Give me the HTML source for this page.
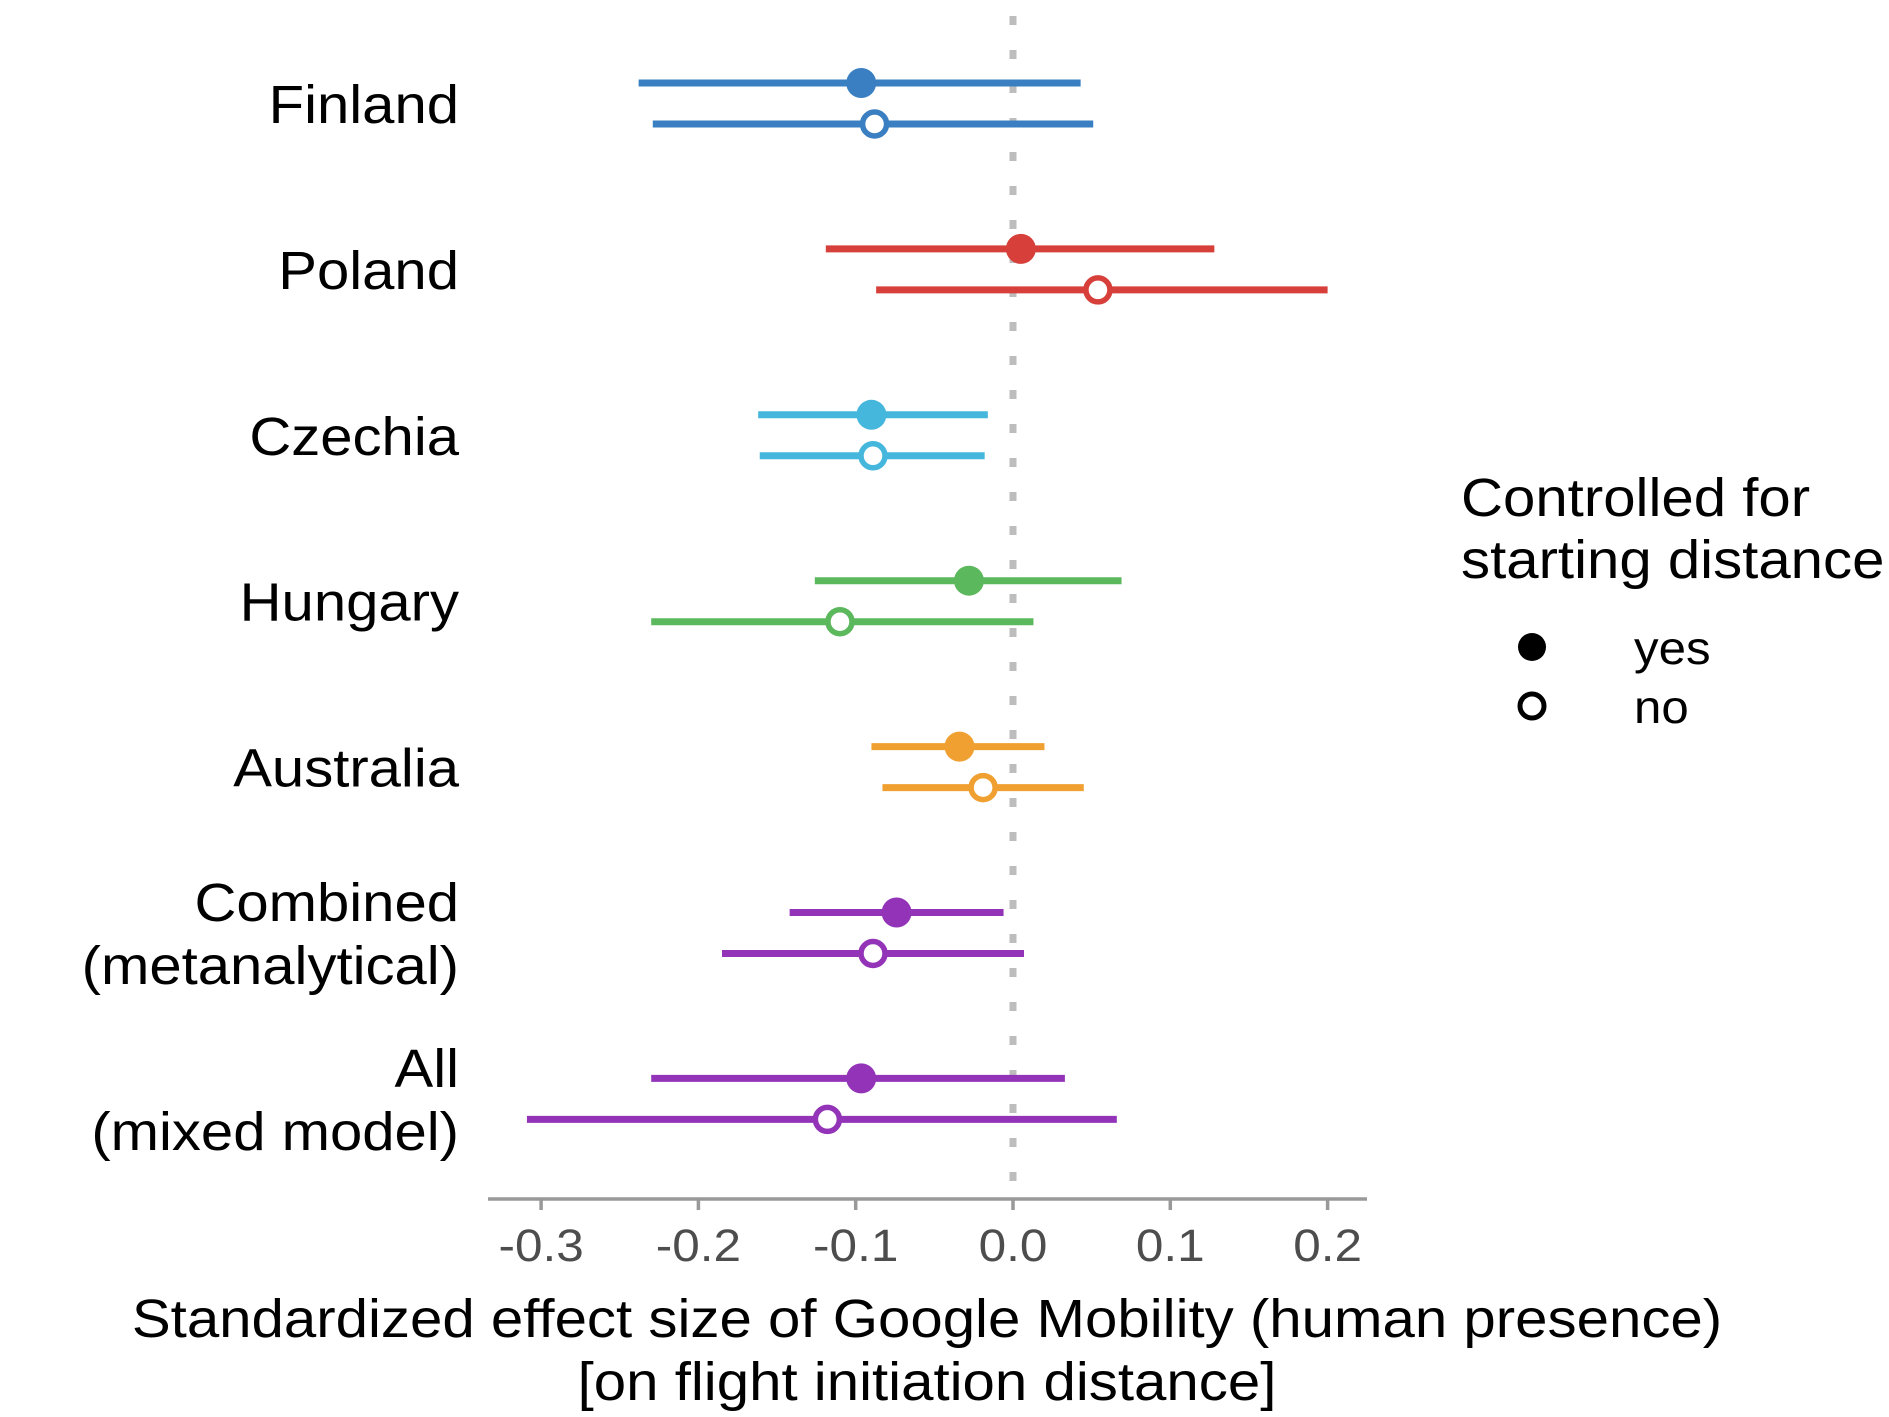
<!DOCTYPE html>
<html><head><meta charset="utf-8"><style>
html,body{margin:0;padding:0;background:#fff}
svg{display:block;font-family:"Liberation Sans",Arial,sans-serif}
</style></head><body>
<svg id="chart" width="1889" height="1417" viewBox="0 0 1889 1417" xmlns="http://www.w3.org/2000/svg">
<line x1="1013" y1="16" x2="1013" y2="1199" stroke="#bdbdbd" stroke-width="7" stroke-dasharray="9 25"/>
<line x1="488" y1="1199" x2="1367" y2="1199" stroke="#999" stroke-width="3.5"/>
<g id="ticks"></g>
<g id="labels"></g>
<g id="marks"></g>
<g transform="translate(927,1337) scale(1.078,1)"><text x="0" y="0" font-size="54" text-anchor="middle" fill="#000">Standardized effect size of Google Mobility (human presence)</text></g>
<g transform="translate(927,1400) scale(1.078,1)"><text x="0" y="0" font-size="54" text-anchor="middle" fill="#000">[on flight initiation distance]</text></g>
<g>
<g transform="translate(1461,516) scale(1.077,1)"><text x="0" y="0" font-size="54" fill="#000">Controlled for</text></g>
<g transform="translate(1461,578) scale(1.077,1)"><text x="0" y="0" font-size="54" fill="#000">starting distance</text></g>
<circle cx="1532" cy="647" r="14" fill="#000"/>
<g transform="translate(1634,664) scale(1.07,1)"><text x="0" y="0" font-size="46" fill="#000">yes</text></g>
<circle cx="1532" cy="706" r="12" fill="#fff" stroke="#000" stroke-width="5"/>
<g transform="translate(1634,723) scale(1.07,1)"><text x="0" y="0" font-size="46" fill="#000">no</text></g>
</g>
</svg>
<script>
const categories = [["Finland"],["Poland"],["Czechia"],["Hungary"],["Australia"],["Combined","(metanalytical)"],["All","(mixed model)"]];
const colors = ["#3a7fc1","#d7403a","#45b7dd","#5cb85c","#f0a030","#9334b8","#9334b8"];
const yesEst = [-0.0965, 0.005, -0.090, -0.028, -0.034, -0.074, -0.0965];
const yesLo  = [-0.238, -0.119, -0.162, -0.126, -0.090, -0.142, -0.230];
const yesHi  = [0.043, 0.128, -0.016, 0.069, 0.020, -0.006, 0.033];
const noEst  = [-0.088, 0.054, -0.089, -0.110, -0.019, -0.089, -0.118];
const noLo   = [-0.229, -0.087, -0.161, -0.230, -0.083, -0.185, -0.309];
const noHi   = [0.051, 0.200, -0.018, 0.013, 0.045, 0.007, 0.066];
const tickValues = [-0.3,-0.2,-0.1,0.0,0.1,0.2];
const tickLabels = ["-0.3","-0.2","-0.1","0.0","0.1","0.2"];

const NS="http://www.w3.org/2000/svg";
function xs(v){return 1013 + v*1573;}
function ys(i){return 83 + i*165.9;}
function mk(tag,attrs,parent){const e=document.createElementNS(NS,tag);for(const k in attrs)e.setAttribute(k,attrs[k]);parent.appendChild(e);return e;}
const ticks=document.getElementById('ticks'), labels=document.getElementById('labels'), marks=document.getElementById('marks');
tickValues.forEach((v,i)=>{
  const t=mk('line',{x1:xs(v),x2:xs(v),y1:1199,y2:1210,stroke:'#999','stroke-width':3.5},ticks);
  
  
  const g=mk('g',{transform:'translate('+xs(v)+',1261) scale(1.1,1)'},ticks);
  const l=mk('text',{x:0,y:0,'font-size':45,'text-anchor':'middle',fill:'#4d4d4d'},g);
  l.textContent=tickLabels[i];
  
  
});
categories.forEach((lines,i)=>{
  const mid=ys(i)+20;
  const n=lines.length;
  lines.forEach((s,j)=>{
    const y = mid + 20 + (j-(n-1)/2)*63;
    const g=mk('g',{transform:'translate(459,'+y+') scale(1.075,1)'},labels);
    const t=mk('text',{x:0,y:0,'font-size':54,'text-anchor':'end',fill:'#000'},g);
    t.textContent=s;
    
    
  });
  const c=colors[i];
  const y1=ys(i), y2=ys(i)+41;
  const l1=mk('line',{x1:xs(yesLo[i]),x2:xs(yesHi[i]),y1:y1,y2:y1,stroke:c,'stroke-width':7},marks);
  
  
  const p1=mk('circle',{cx:xs(yesEst[i]),cy:y1,r:15,fill:c},marks);
  
  
  const l2=mk('line',{x1:xs(noLo[i]),x2:xs(noHi[i]),y1:y2,y2:y2,stroke:c,'stroke-width':7},marks);
  
  
  const p2=mk('circle',{cx:xs(noEst[i]),cy:y2,r:12,fill:'#fff',stroke:c,'stroke-width':5.5},marks);
  
  
});
</script>
</body></html>
